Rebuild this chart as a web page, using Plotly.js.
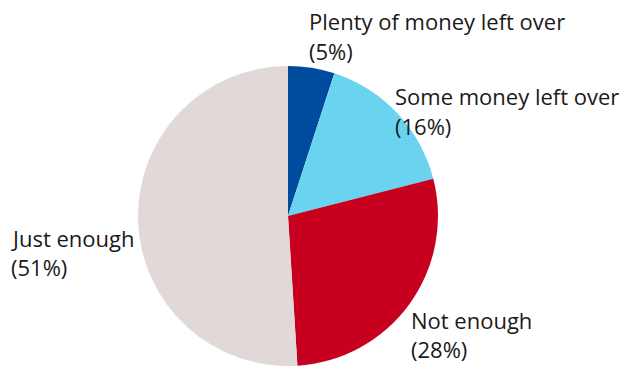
<!DOCTYPE html>
<html><head><meta charset="utf-8">
<script src="https://cdn.plot.ly/plotly-3.0.1.min.js"></script>
<style>html,body{margin:0;padding:0;background:#fff}#chart{width:631px;height:369px}</style>
</head><body><div id="chart"></div>
<script>
const categories = ["Plenty of money left over", "Some money left over", "Not enough", "Just enough"];
const values = [5, 16, 28, 51];
const colors = ["#004b9b", "#6ad3f0", "#c6001e", "#e0d9d7"];
// label anchor positions (px, left x / middle y of each line)
const labelPos = [
  {x: 307, y1: 21, y2: 51},
  {x: 393, y1: 96, y2: 126},
  {x: 409, y1: 320, y2: 349},
  {x: 9, y1: 238, y2: 267}
];
const W = 631, H = 369;
const annotations = [];
categories.forEach((c, i) => {
  const p = labelPos[i];
  [[c, p.y1], ["(" + values[i] + "%)", p.y2]].forEach(([t, y]) => {
    annotations.push({text: t, xref: "paper", yref: "paper", x: p.x / W, y: 1 - y / H,
      xanchor: "left", yanchor: "middle", showarrow: false, align: "left",
      font: {family: "Open Sans, sans-serif", size: 22, color: "#1a1a1a"}});
  });
});
const data = [{
  type: "pie", labels: categories, values: values, sort: false, direction: "clockwise",
  marker: {colors: colors, line: {width: 0}}, textinfo: "none", hoverinfo: "label+percent",
  domain: {x: [(288 - 150) / W, (288 + 150) / W], y: [1 - 366 / H, 1 - 66 / H]}
}];
const layout = {width: W, height: H, margin: {l: 0, r: 0, t: 0, b: 0}, showlegend: false,
  paper_bgcolor: "#fff", annotations: annotations};
Plotly.newPlot("chart", data, layout, {displayModeBar: false, staticPlot: true});
</script></body></html>
